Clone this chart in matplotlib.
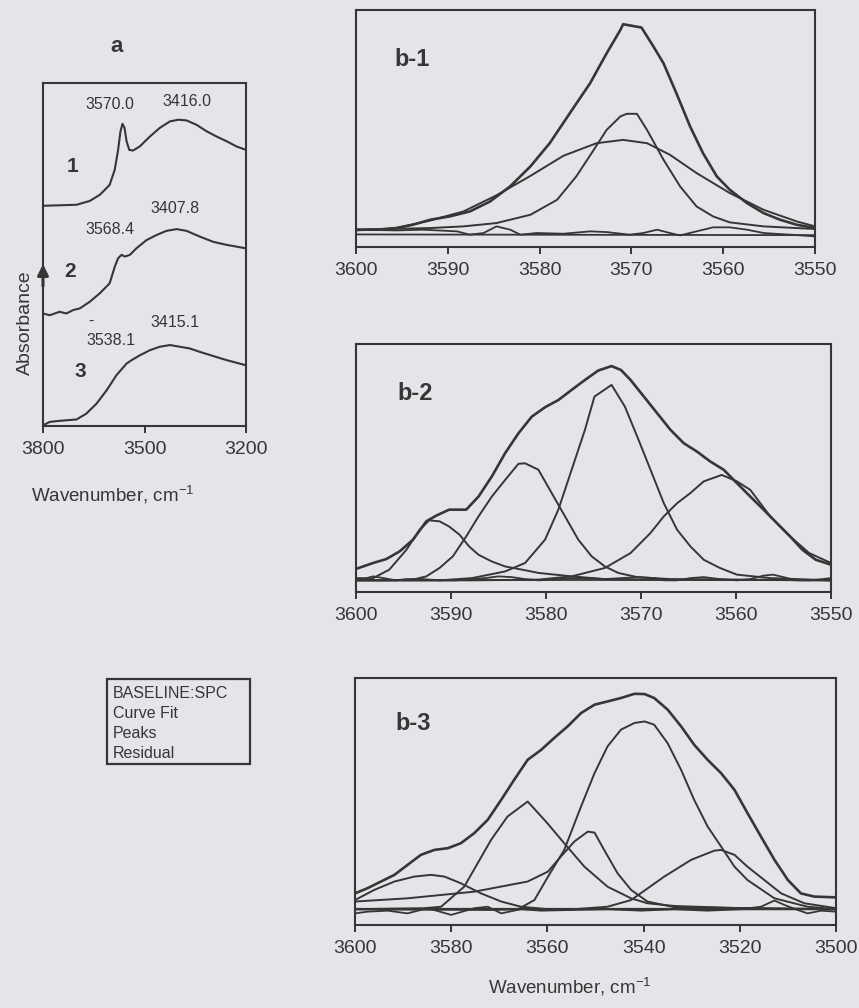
import matplotlib
matplotlib.use('Agg')
import matplotlib.pyplot as plt
from matplotlib.patches import Rectangle

plt.rcParams['font.family'] = ['Liberation Sans', 'DejaVu Sans']

BG = '#e3e5e8'
INK = '#363636'
W, H = 859, 1008

# ---------------- Panel a : survey spectra (absorbance, arbitrary units) ----------------
a1_wn = [3800, 3701, 3662, 3632, 3603, 3588, 3578, 3571, 3565, 3559, 3553, 3545, 3534, 3514,
         3484, 3455, 3425, 3400, 3376, 3346, 3316, 3287, 3257, 3228, 3200]
a1_abs = [0.642, 0.645, 0.656, 0.674, 0.703, 0.747, 0.805, 0.859, 0.881, 0.869, 0.830, 0.805,
          0.803, 0.815, 0.844, 0.869, 0.888, 0.893, 0.891, 0.878, 0.859, 0.844, 0.830, 0.815, 0.805]
a2_wn = [3800, 3780, 3751, 3731, 3711, 3691, 3662, 3632, 3603, 3588, 3578, 3568, 3558, 3543,
         3524, 3494, 3464, 3435, 3405, 3376, 3336, 3297, 3257, 3200]
a2_abs = [0.328, 0.323, 0.333, 0.328, 0.338, 0.343, 0.362, 0.387, 0.416, 0.464, 0.489, 0.499,
          0.494, 0.499, 0.518, 0.542, 0.557, 0.569, 0.574, 0.569, 0.552, 0.537, 0.528, 0.518]
a3_wn = [3800, 3780, 3751, 3701, 3672, 3642, 3612, 3583, 3553, 3538, 3514, 3484, 3455, 3425,
         3395, 3366, 3336, 3297, 3257, 3200]
a3_abs = [0.002, 0.012, 0.015, 0.019, 0.036, 0.065, 0.104, 0.148, 0.182, 0.192, 0.206, 0.221,
          0.231, 0.236, 0.231, 0.226, 0.216, 0.204, 0.192, 0.177]
a_ticks = [3800, 3500, 3200]
a_curve_labels = ['1', '2', '3']
a_peak_labels = ['3570.0', '3416.0', '3568.4', '3407.8', '3538.1', '3415.1']

# ---------------- Panel b-1 ----------------
b1_tot_wn = [3600, 3597.4, 3595.6, 3593.8, 3591.9, 3589.8, 3587.6, 3585.4, 3583.2, 3581.0, 3578.9,
             3576.7, 3574.5, 3572.7, 3571.2, 3570.9, 3568.9, 3567.6, 3566.5, 3565.1, 3563.6, 3562.2,
             3560.7, 3559.3, 3557.4, 3555.6, 3553.8, 3552.0, 3550.0]
b1_tot = [0.073, 0.073, 0.080, 0.094, 0.115, 0.129, 0.150, 0.192, 0.256, 0.340, 0.438, 0.565, 0.691,
          0.817, 0.916, 0.940, 0.926, 0.846, 0.775, 0.649, 0.508, 0.396, 0.298, 0.242, 0.185, 0.143,
          0.115, 0.094, 0.080]
b1_p1_wn = [3600, 3591.9, 3588.3, 3584.7, 3581.0, 3578.1, 3576.0, 3574.1, 3572.7, 3571.2, 3570.5,
            3569.4, 3568.3, 3566.5, 3564.7, 3562.9, 3561.1, 3559.3, 3555.6, 3550.0]
b1_p1 = [0.073, 0.080, 0.087, 0.101, 0.136, 0.199, 0.298, 0.410, 0.494, 0.551, 0.562, 0.562, 0.494,
         0.368, 0.256, 0.171, 0.129, 0.104, 0.087, 0.076]
b1_p2_wn = [3600, 3595.6, 3591.9, 3588.3, 3584.7, 3581.0, 3577.4, 3573.8, 3570.9, 3568.3, 3565.8,
            3562.9, 3559.3, 3555.6, 3552.0, 3550.0]
b1_p2 = [0.070, 0.080, 0.112, 0.150, 0.218, 0.300, 0.385, 0.438, 0.452, 0.438, 0.389, 0.312, 0.228,
         0.157, 0.108, 0.087]
b1_res_wn = [3600, 3595.6, 3592.7, 3589.0, 3587.6, 3586.1, 3584.7, 3583.2, 3582.1, 3580.3, 3577.4,
             3574.5, 3572.7, 3570.2, 3568.7, 3567.2, 3565.8, 3564.7, 3562.9, 3561.1, 3559.3, 3557.4,
             3555.6, 3552.7, 3550.0]
b1_res = [0.073, 0.070, 0.073, 0.066, 0.052, 0.059, 0.087, 0.073, 0.052, 0.059, 0.056, 0.066, 0.063,
          0.052, 0.059, 0.073, 0.059, 0.049, 0.066, 0.083, 0.083, 0.073, 0.059, 0.052, 0.045]
b1_base_wn = [3600, 3550]
b1_base = [0.053, 0.050]
b1_ticks = [3600, 3590, 3580, 3570, 3560, 3550]

# ---------------- Panel b-2 ----------------
b2_tot_wn = [3600, 3598.2, 3596.8, 3595.4, 3594.0, 3592.6, 3591.6, 3590.2, 3588.4, 3587.1, 3585.7,
             3584.3, 3582.9, 3581.5, 3580.1, 3578.7, 3577.3, 3575.9, 3574.5, 3573.1, 3572.1, 3571.1,
             3569.7, 3568.3, 3566.9, 3565.5, 3564.1, 3562.7, 3561.3, 3559.9, 3558.5, 3557.1, 3555.7,
             3554.3, 3553.0, 3551.6, 3550.0]
b2_tot = [0.093, 0.117, 0.133, 0.164, 0.211, 0.285, 0.307, 0.332, 0.332, 0.385, 0.466, 0.560, 0.640,
          0.707, 0.745, 0.774, 0.815, 0.855, 0.893, 0.911, 0.895, 0.855, 0.788, 0.721, 0.654, 0.600,
          0.566, 0.526, 0.493, 0.439, 0.385, 0.332, 0.278, 0.224, 0.170, 0.130, 0.110]
b2_pA_wn = [3600, 3598.2, 3596.5, 3594.7, 3593.3, 3592.3, 3591.2, 3590.2, 3589.1, 3588.1, 3587.1,
            3585.7, 3584.3, 3582.5, 3580.8, 3577.3, 3573.8, 3566.9, 3550.0]
b2_pA = [0.050, 0.056, 0.090, 0.170, 0.251, 0.289, 0.285, 0.264, 0.231, 0.184, 0.150, 0.123, 0.103,
         0.090, 0.077, 0.063, 0.052, 0.050, 0.047]
b2_pB_wn = [3600, 3596.5, 3594.0, 3592.6, 3591.2, 3589.8, 3588.4, 3587.1, 3585.7, 3584.3, 3582.9,
            3582.2, 3580.8, 3579.4, 3578.0, 3576.6, 3575.2, 3573.8, 3572.4, 3570.4, 3566.9, 3550.0]
b2_pB = [0.047, 0.047, 0.050, 0.063, 0.097, 0.144, 0.224, 0.305, 0.385, 0.452, 0.517, 0.519, 0.493,
         0.399, 0.305, 0.211, 0.144, 0.103, 0.077, 0.060, 0.052, 0.047]
b2_pC_wn = [3600, 3591.2, 3587.8, 3584.3, 3582.2, 3580.1, 3578.7, 3577.3, 3575.9, 3574.9, 3573.1,
            3571.7, 3570.4, 3569.0, 3567.6, 3566.2, 3564.8, 3563.4, 3561.7, 3559.9, 3556.4, 3550.0]
b2_pC = [0.047, 0.047, 0.056, 0.083, 0.117, 0.211, 0.332, 0.493, 0.654, 0.788, 0.835, 0.748, 0.627,
         0.493, 0.358, 0.251, 0.184, 0.130, 0.097, 0.070, 0.056, 0.047]
b2_pD_wn = [3600, 3587.8, 3580.8, 3577.3, 3573.8, 3571.1, 3569.0, 3567.6, 3566.2, 3564.8, 3563.4,
            3561.5, 3559.9, 3558.5, 3556.4, 3554.3, 3552.3, 3550.0]
b2_pD = [0.047, 0.047, 0.050, 0.063, 0.097, 0.157, 0.238, 0.305, 0.358, 0.399, 0.446, 0.472, 0.446,
         0.412, 0.305, 0.224, 0.157, 0.117]
b2_res_wn = [3600, 3598.9, 3598.2, 3597.1, 3595.8, 3594.7, 3593.0, 3591.2, 3589.5, 3587.8, 3586.4,
             3585.0, 3583.6, 3582.2, 3580.8, 3579.4, 3577.3, 3575.6, 3573.8, 3572.1, 3570.4, 3568.6,
             3567.6, 3566.2, 3564.8, 3563.4, 3561.7, 3559.9, 3558.5, 3557.1, 3556.1, 3555.0, 3553.7,
             3552.3, 3550.9, 3550.0]
b2_res = [0.056, 0.056, 0.063, 0.056, 0.047, 0.052, 0.052, 0.047, 0.047, 0.052, 0.056, 0.063, 0.060,
          0.052, 0.047, 0.050, 0.056, 0.056, 0.052, 0.056, 0.060, 0.056, 0.047, 0.047, 0.056, 0.060,
          0.052, 0.047, 0.052, 0.066, 0.070, 0.060, 0.047, 0.047, 0.052, 0.056]
b2_base_wn = [3600, 3550]
b2_base = [0.047, 0.047]
b2_ticks = [3600, 3590, 3580, 3570, 3560, 3550]

# ---------------- Panel b-3 ----------------
b3_tot_wn = [3600, 3597.4, 3594.6, 3591.8, 3589.1, 3586.3, 3583.5, 3580.7, 3578.0, 3575.2, 3572.4,
             3569.6, 3566.9, 3564.1, 3561.3, 3558.6, 3555.8, 3553.0, 3550.2, 3547.5, 3544.7, 3541.9,
             3539.8, 3537.8, 3535.0, 3532.2, 3529.5, 3526.7, 3523.9, 3521.1, 3518.4, 3515.6, 3512.8,
             3510.0, 3507.3, 3504.5, 3500.0]
b3_tot = [0.128, 0.149, 0.176, 0.203, 0.243, 0.284, 0.304, 0.311, 0.331, 0.372, 0.426, 0.507, 0.588,
          0.669, 0.709, 0.757, 0.804, 0.858, 0.892, 0.905, 0.919, 0.936, 0.935, 0.919, 0.872, 0.804,
          0.730, 0.669, 0.615, 0.547, 0.453, 0.358, 0.264, 0.182, 0.128, 0.115, 0.112]
b3_p1_wn = [3600, 3596.0, 3591.8, 3587.7, 3584.2, 3581.4, 3578.0, 3573.8, 3569.6, 3565.5, 3559.9,
            3547.5, 3500.0]
b3_p1 = [0.101, 0.142, 0.176, 0.196, 0.203, 0.196, 0.169, 0.128, 0.095, 0.074, 0.064, 0.064, 0.064]
b3_p2_wn = [3600, 3585.6, 3582.1, 3577.3, 3571.7, 3568.3, 3564.1, 3560.0, 3556.5, 3552.3, 3547.5,
            3542.6, 3539.2, 3533.6, 3519.8, 3500.0]
b3_p2 = [0.064, 0.068, 0.074, 0.155, 0.345, 0.439, 0.500, 0.412, 0.331, 0.236, 0.155, 0.108, 0.088,
         0.077, 0.068, 0.064]
b3_p3_wn = [3600, 3589.1, 3575.2, 3564.1, 3559.9, 3557.2, 3554.4, 3551.6, 3550.2, 3548.2, 3545.4,
            3542.6, 3539.2, 3533.6, 3500.0]
b3_p3 = [0.095, 0.108, 0.135, 0.176, 0.216, 0.277, 0.338, 0.378, 0.374, 0.304, 0.209, 0.142, 0.095,
         0.072, 0.064]
b3_p4_wn = [3600, 3571.7, 3566.1, 3562.7, 3559.9, 3556.5, 3553.0, 3550.2, 3547.5, 3544.7, 3541.9,
            3539.8, 3537.8, 3535.0, 3532.2, 3529.5, 3526.7, 3523.9, 3521.1, 3518.4, 3512.8, 3505.9,
            3500.0]
b3_p4 = [0.064, 0.061, 0.064, 0.101, 0.195, 0.304, 0.480, 0.615, 0.723, 0.791, 0.818, 0.824, 0.811,
         0.736, 0.628, 0.507, 0.399, 0.318, 0.236, 0.182, 0.108, 0.074, 0.064]
b3_p5_wn = [3600, 3554.4, 3547.5, 3542.6, 3535.7, 3530.1, 3525.3, 3523.9, 3521.1, 3518.4, 3511.4,
            3506.6, 3500.0]
b3_p5 = [0.064, 0.064, 0.074, 0.101, 0.196, 0.264, 0.301, 0.304, 0.284, 0.236, 0.128, 0.088, 0.068]
b3_res_wn = [3600, 3597.4, 3593.2, 3589.1, 3584.9, 3580.0, 3575.2, 3572.4, 3569.6, 3565.5, 3561.3,
             3554.4, 3547.5, 3540.5, 3533.6, 3526.7, 3519.8, 3515.6, 3512.8, 3510.7, 3508.0, 3505.9,
             3503.1, 3500.0]
b3_res = [0.047, 0.054, 0.058, 0.047, 0.068, 0.041, 0.068, 0.074, 0.047, 0.064, 0.058, 0.061, 0.064,
          0.058, 0.064, 0.058, 0.064, 0.074, 0.099, 0.081, 0.061, 0.047, 0.058, 0.054]
b3_base_wn = [3600, 3500]
b3_base = [0.064, 0.064]
b3_ticks = [3600, 3580, 3560, 3540, 3520, 3500]

legend_lines = ['BASELINE:SPC', 'Curve Fit', 'Peaks', 'Residual']


def fx(px):
    return px / W


def fy(py):
    return 1 - py / H


def style(ax, xlim, ticks):
    ax.set_facecolor('none')
    ax.set_xlim(*xlim)
    ax.set_ylim(0, 1)
    ax.set_yticks([])
    ax.set_xticks(ticks)
    ax.set_xticklabels([str(t) for t in ticks])
    ax.tick_params(axis='x', direction='out', length=5, width=1.4, colors=INK,
                   labelsize=14, pad=6, labelcolor=INK)
    for s in ax.spines.values():
        s.set_color(INK)
        s.set_linewidth(1.5)


fig = plt.figure(figsize=(W / 100, H / 100), dpi=100, facecolor=BG)

# ---- panel a ----
axa = fig.add_axes([fx(43), fy(426), fx(246) - fx(43), fy(83) - fy(426)])
style(axa, (3800, 3200), a_ticks)
for xs, ys in [(a1_wn, a1_abs), (a2_wn, a2_abs), (a3_wn, a3_abs)]:
    axa.plot(xs, ys, color=INK, lw=1.5, solid_joinstyle='round')
lab_kw = dict(ha='center', va='center', fontsize=11.5, color=INK)
axa.text(3603, 0.937, a_peak_labels[0], **lab_kw)
axa.text(3376, 0.946, a_peak_labels[1], **lab_kw)
axa.text(3603, 0.572, a_peak_labels[2], **lab_kw)
axa.text(3410, 0.635, a_peak_labels[3], **lab_kw)
axa.text(3598, 0.250, a_peak_labels[4], **lab_kw)
axa.text(3410, 0.301, a_peak_labels[5], **lab_kw)
axa.text(3657, 0.305, '-', **lab_kw)
num_kw = dict(ha='center', va='center', fontsize=15, fontweight='bold', color=INK)
axa.text(3713, 0.757, a_curve_labels[0], **num_kw)
axa.text(3721, 0.450, a_curve_labels[1], **num_kw)
axa.text(3691, 0.158, a_curve_labels[2], **num_kw)
axa.annotate('', xy=(0.0, 0.480), xytext=(0.0, 0.40), xycoords='axes fraction',
             arrowprops=dict(arrowstyle='-|>', mutation_scale=16, lw=2.2, color=INK))
fig.text(fx(117), fy(47), 'a', ha='center', va='center', fontsize=16, fontweight='bold', color=INK)
fig.text(fx(25), fy(323), 'Absorbance', rotation=90, ha='center', va='center', fontsize=14, color=INK)
fig.text(fx(113), fy(495), r'Wavenumber, cm$^{\mathregular{-1}}$', ha='center', va='center',
         fontsize=13.5, color=INK)

# ---- legend-like box ----
fig.add_artist(Rectangle((fx(107), fy(764)), fx(250) - fx(107), fy(679) - fy(764),
                         transform=fig.transFigure, facecolor='none', edgecolor=INK, lw=1.6))
for i, t in enumerate(legend_lines):
    fig.text(fx(113), fy(693 + 20 * i), t, ha='left', va='center', fontsize=11.5, color=INK)

# ---- panel b-1 ----
ax1 = fig.add_axes([fx(356), fy(247), fx(815) - fx(356), fy(10) - fy(247)])
style(ax1, (3600, 3550), b1_ticks)
ax1.plot(b1_base_wn, b1_base, color=INK, lw=1.3)
ax1.plot(b1_res_wn, b1_res, color=INK, lw=1.3)
ax1.plot(b1_p1_wn, b1_p1, color=INK, lw=1.4)
ax1.plot(b1_p2_wn, b1_p2, color=INK, lw=1.4)
ax1.plot(b1_tot_wn, b1_tot, color=INK, lw=1.9)
fig.text(fx(412), fy(60), 'b-1', ha='center', va='center', fontsize=17, fontweight='bold', color=INK)

# ---- panel b-2 ----
ax2 = fig.add_axes([fx(356), fy(592), fx(831) - fx(356), fy(344) - fy(592)])
style(ax2, (3600, 3550), b2_ticks)
ax2.plot(b2_base_wn, b2_base, color=INK, lw=1.3)
ax2.plot(b2_res_wn, b2_res, color=INK, lw=1.3)
for xs, ys in [(b2_pA_wn, b2_pA), (b2_pB_wn, b2_pB), (b2_pC_wn, b2_pC), (b2_pD_wn, b2_pD)]:
    ax2.plot(xs, ys, color=INK, lw=1.4)
ax2.plot(b2_tot_wn, b2_tot, color=INK, lw=1.9)
fig.text(fx(415), fy(393), 'b-2', ha='center', va='center', fontsize=17, fontweight='bold', color=INK)

# ---- panel b-3 ----
ax3 = fig.add_axes([fx(355), fy(925), fx(836) - fx(355), fy(678) - fy(925)])
style(ax3, (3600, 3500), b3_ticks)
ax3.plot(b3_base_wn, b3_base, color=INK, lw=1.6)
ax3.plot(b3_res_wn, b3_res, color=INK, lw=1.3)
for xs, ys in [(b3_p1_wn, b3_p1), (b3_p2_wn, b3_p2), (b3_p3_wn, b3_p3), (b3_p4_wn, b3_p4),
               (b3_p5_wn, b3_p5)]:
    ax3.plot(xs, ys, color=INK, lw=1.4)
ax3.plot(b3_tot_wn, b3_tot, color=INK, lw=1.9)
fig.text(fx(413), fy(724), 'b-3', ha='center', va='center', fontsize=17, fontweight='bold', color=INK)
fig.text(fx(570), fy(987), r'Wavenumber, cm$^{\mathregular{-1}}$', ha='center', va='center',
         fontsize=13.5, color=INK)

fig.savefig('out.png', dpi=100, facecolor=BG)
